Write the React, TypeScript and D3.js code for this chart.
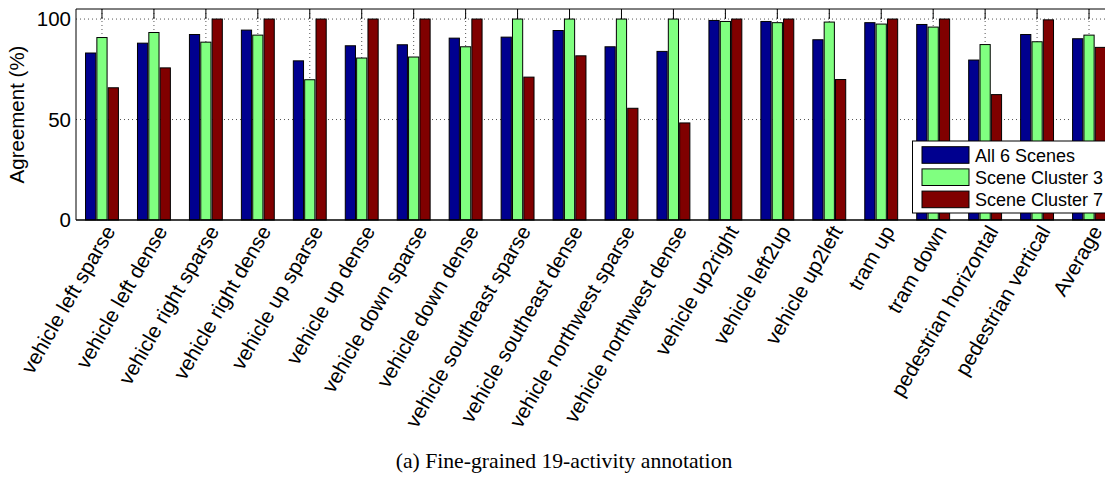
import React from "react";
import * as d3 from "d3";

// Activity categories (19 activities + overall average)
const categories = [
  "vehicle left sparse",
  "vehicle left dense",
  "vehicle right sparse",
  "vehicle right dense",
  "vehicle up sparse",
  "vehicle up dense",
  "vehicle down sparse",
  "vehicle down dense",
  "vehicle southeast sparse",
  "vehicle southeast dense",
  "vehicle northwest sparse",
  "vehicle northwest dense",
  "vehicle up2right",
  "vehicle left2up",
  "vehicle up2left",
  "tram up",
  "tram down",
  "pedestrian horizontal",
  "pedestrian vertical",
  "Average",
];

// Agreement (%) per series
const allScenes = [83.1, 88.0, 92.3, 94.5, 79.2, 86.7, 87.2, 90.5, 91.0, 94.3, 86.2, 83.9, 99.3, 98.8, 89.7, 98.2, 97.3, 79.6, 92.3, 90.2];
const cluster3 = [90.8, 93.3, 88.5, 92.0, 69.8, 80.6, 81.1, 86.2, 100, 100, 100, 100, 98.8, 98.2, 98.5, 97.5, 96.0, 87.3, 88.7, 92.0];
const cluster7 = [65.8, 75.7, 100, 100, 100, 100, 100, 100, 71.1, 81.7, 55.6, 48.3, 100, 100, 69.9, 100, 100, 62.4, 99.6, 85.9];

const seriesNames = ["All 6 Scenes", "Scene Cluster 3", "Scene Cluster 7"];
const seriesColors = ["#00008F", "#80FF80", "#800000"];
const seriesValues = [allScenes, cluster3, cluster7];

const yTicks = [0, 50, 100];

const W = 1105;
const H = 479;
const left = 76;
const top = 9;
const bottom = 220;
const step = 51.95;
const right = left + step * categories.length;

const SANS = "'Liberation Sans', Arial, Helvetica, sans-serif";
const SERIF = "'Liberation Serif', 'Times New Roman', serif";

export default function App() {
  const x = d3.scaleBand<string>().domain(categories).range([left, right]).padding(0);
  const y = d3.scaleLinear().domain([0, 105]).range([bottom, top]);
  const groupW = x.bandwidth() * 0.655;
  const inner = d3
    .scaleBand<string>()
    .domain(seriesNames)
    .range([-groupW / 2, groupW / 2])
    .padding(0);
  const barW = inner.bandwidth() * 0.9;

  return (
    <svg
      width={W}
      height={H}
      style={{ position: "absolute", left: 0, top: 0, background: "#fff" }}
    >
      {/* axes background */}
      <rect x={left} y={top} width={right - left} height={bottom - top} fill="#fff" />

      {/* dotted grid */}
      {yTicks
        .filter((t) => t > 0)
        .map((t) => (
          <line
            key={"gy" + t}
            x1={left}
            x2={right}
            y1={y(t)}
            y2={y(t)}
            stroke="#555"
            strokeWidth={1}
            strokeDasharray="1 3"
          />
        ))}
      {categories.map((c) => {
        const cx = x(c)! + x.bandwidth() / 2;
        return (
          <line
            key={"gx" + c}
            x1={cx}
            x2={cx}
            y1={top}
            y2={bottom}
            stroke="#555"
            strokeWidth={1}
            strokeDasharray="1 3"
          />
        );
      })}

      {/* top tick marks */}
      {categories.map((c) => {
        const cx = x(c)! + x.bandwidth() / 2;
        return (
          <line key={"tt" + c} x1={cx} x2={cx} y1={top} y2={top + 10} stroke="#000" strokeWidth={1} />
        );
      })}

      {/* bars */}
      {categories.map((c, i) => {
        const cx = x(c)! + x.bandwidth() / 2;
        return (
          <g key={"b" + c}>
            {seriesNames.map((s, k) => {
              const v = seriesValues[k][i];
              const bx = cx + inner(s)! + (inner.bandwidth() - barW) / 2;
              return (
                <rect
                  key={s}
                  x={bx}
                  y={y(v)}
                  width={barW}
                  height={y(0) - y(v)}
                  fill={seriesColors[k]}
                  stroke="#000"
                  strokeWidth={1}
                />
              );
            })}
          </g>
        );
      })}

      {/* frame */}
      <line x1={left} x2={right} y1={top} y2={top} stroke="#000" strokeWidth={1} />
      <line x1={left} x2={right} y1={bottom} y2={bottom} stroke="#000" strokeWidth={1.5} />
      <line x1={left} x2={left} y1={top} y2={bottom} stroke="#000" strokeWidth={1} />

      {/* y tick labels */}
      {yTicks.map((t) => (
        <text
          key={"yl" + t}
          x={left - 5}
          y={y(t) + 7}
          textAnchor="end"
          fontFamily={SANS}
          fontSize={20.5}
          fill="#000"
        >
          {t}
        </text>
      ))}

      {/* y axis title */}
      <text
        transform={`translate(24, ${(top + bottom) / 2}) rotate(-90)`}
        textAnchor="middle"
        fontFamily={SANS}
        fontSize={20.5}
        fill="#000"
      >
        Agreement (%)
      </text>

      {/* x tick labels */}
      {categories.map((c) => {
        const cx = x(c)! + x.bandwidth() / 2;
        return (
          <text
            key={"xl" + c}
            transform={`translate(${cx + 14}, 231) rotate(-60)`}
            textAnchor="end"
            fontFamily={SANS}
            fontSize={20.8}
            fill="#000"
          >
            {c}
          </text>
        );
      })}

      {/* legend */}
      <g>
        <rect x={912.5} y={141} width={210} height={72} fill="#fff" stroke="#000" strokeWidth={1} />
        {seriesNames.map((s, k) => {
          const cy = 155 + k * 22.2;
          return (
            <g key={"lg" + s}>
              <rect x={922} y={cy - 8.3} width={47} height={16.6} fill={seriesColors[k]} stroke="#000" strokeWidth={1} />
              <text x={975} y={cy + 6.5} fontFamily={SANS} fontSize={18} fill="#000">
                {s}
              </text>
            </g>
          );
        })}
      </g>

      {/* caption */}
      <text x={564} y={467.5} textAnchor="middle" fontFamily={SERIF} fontSize={21.7} fill="#000">
        (a) Fine-grained 19-activity annotation
      </text>
    </svg>
  );
}
